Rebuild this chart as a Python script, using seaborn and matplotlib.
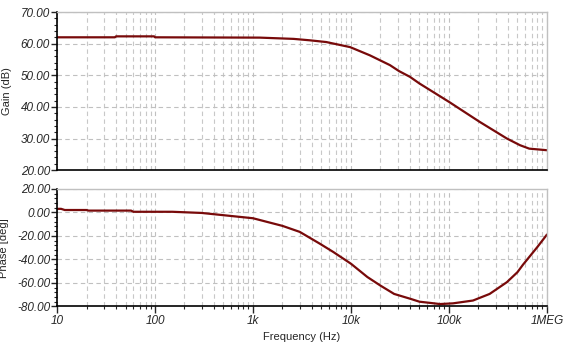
import matplotlib
matplotlib.use("Agg")
import matplotlib.pyplot as plt
import matplotlib.ticker as mticker
import seaborn as sns
import pandas as pd

# values
gain_freq = [10, 39, 40, 98, 100, 1170, 2600, 3800, 5600, 9800, 15600, 25000,
             31000, 40000, 50000, 100000, 205000, 390000, 530000, 660000, 1000000]
gain_db = [62.0, 62.0, 62.3, 62.3, 62.0, 61.9, 61.5, 61.05, 60.5, 58.9, 56.3, 53.2,
           51.3, 49.5, 47.4, 41.6, 35.3, 30.0, 27.9, 26.8, 26.3]

phase_freq = [10, 11, 12, 20, 21, 57, 60, 150, 300, 1000, 2000, 3000, 4800, 6600,
              10000, 14700, 20000, 27600, 41000, 50000, 64000, 81000, 110000,
              176000, 260000, 390000, 500000, 570000, 800000, 1000000]
phase_deg = [3.0, 3.0, 2.0, 2.0, 1.5, 1.5, 0.5, 0.5, -0.5, -5.0, -11.5, -16.6, -26.6,
             -33.7, -43.7, -55.0, -62.3, -69.4, -73.7, -76.0, -77.0, -78.0, -77.4,
             -75.0, -69.4, -59.4, -50.9, -44.5, -29.4, -18.9]

gain_df = pd.DataFrame({"freq": gain_freq, "gain": gain_db})
phase_df = pd.DataFrame({"freq": phase_freq, "phase": phase_deg})

sns.set_style("white")
plt.rcParams["font.family"] = ["Liberation Sans", "DejaVu Sans"]
line_color = "#780a0a"

fig = plt.figure(figsize=(5.73, 3.53), dpi=100)
ax1 = fig.add_axes([0.0995, 0.518, 0.855, 0.448])
ax2 = fig.add_axes([0.0995, 0.132, 0.855, 0.333])


def style_axis(ax, ylo, yhi, ystep, ylabel):
    ax.set_xscale("log")
    ax.set_xlim(10, 1e6)
    ax.set_ylim(ylo, yhi)
    ax.yaxis.set_major_locator(mticker.MultipleLocator(ystep))
    ax.yaxis.set_minor_locator(mticker.AutoMinorLocator(5))
    ax.yaxis.set_major_formatter(mticker.FormatStrFormatter("%.2f"))
    ax.xaxis.set_minor_locator(mticker.LogLocator(base=10, subs=range(2, 10)))
    ax.grid(True, which="major", color="#c0c0c0", linestyle=(0, (4, 3)), linewidth=0.8)
    ax.grid(True, which="minor", axis="x", color="#c8c8c8", linestyle=(0, (4, 3)), linewidth=0.8)
    for side in ("top", "right"):
        ax.spines[side].set_color("#c0c0c0")
        ax.spines[side].set_linewidth(1.0)
    for side in ("left", "bottom"):
        ax.spines[side].set_color("black")
        ax.spines[side].set_linewidth(1.2)
    ax.tick_params(axis="y", which="major", left=True, length=4, width=1, labelsize=8.5, pad=1)
    ax.tick_params(axis="y", which="minor", left=True, length=2, width=0.8)
    for lab in ax.get_yticklabels():
        lab.set_fontstyle("italic")
    ax.set_ylabel(ylabel, fontsize=8, labelpad=6)


sns.lineplot(data=gain_df, x="freq", y="gain", ax=ax1, color=line_color, linewidth=1.6)
style_axis(ax1, 20, 70, 10, "Gain (dB)")
ax1.set_xlabel("")
ax1.tick_params(axis="x", which="both", bottom=False, labelbottom=False)

sns.lineplot(data=phase_df, x="freq", y="phase", ax=ax2, color=line_color, linewidth=1.6)
style_axis(ax2, -80, 20, 20, "Phase [deg]")
ax2.xaxis.set_major_locator(mticker.FixedLocator([10, 100, 1e3, 1e4, 1e5, 1e6]))
ax2.xaxis.set_major_formatter(mticker.FixedFormatter(["10", "100", "1k", "10k", "100k", "1MEG"]))
ax2.tick_params(axis="x", which="major", bottom=True, length=5, width=1, labelsize=8.5, pad=1.5)
ax2.tick_params(axis="x", which="minor", bottom=True, length=2.5, width=0.8)
for lab in ax2.get_xticklabels():
    lab.set_fontstyle("italic")
ax2.set_xlabel("Frequency (Hz)", fontsize=8, labelpad=3)

fig.savefig("out.png", dpi=100)
